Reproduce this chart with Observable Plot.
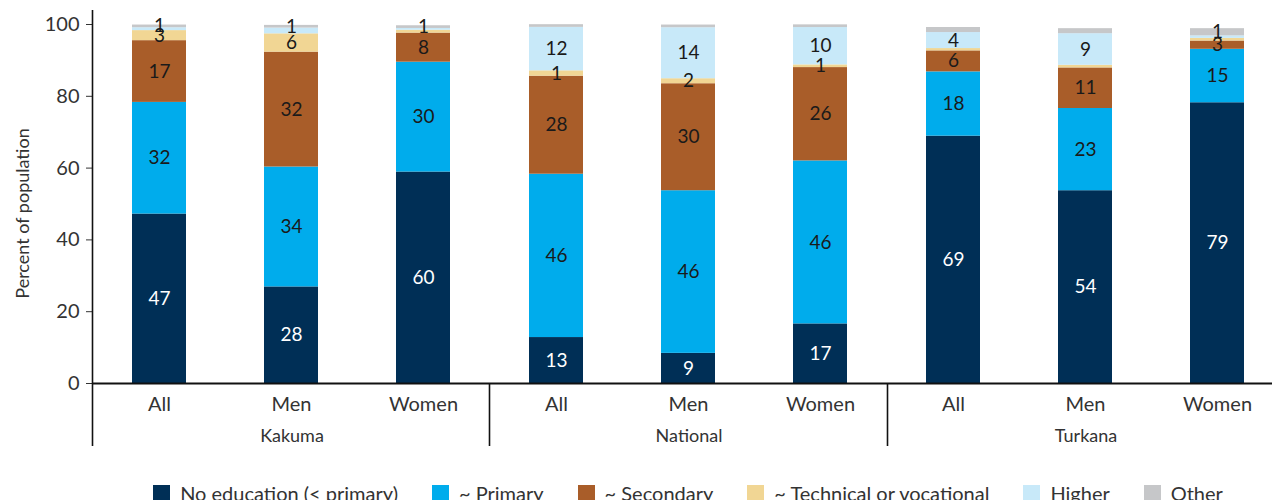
<!DOCTYPE html>
<html><head><meta charset="utf-8">
<script src="https://cdn.jsdelivr.net/npm/d3@7"></script>
<script src="https://cdn.jsdelivr.net/npm/@observablehq/plot@0.6"></script>
<style>
html,body{margin:0;padding:0;background:#fff;overflow:hidden;width:1272px;height:500px;}
#chart{width:1284px;}
.legend{display:flex;justify-content:center;gap:0 34px;padding-left:92px;box-sizing:border-box;width:1284px;margin-top:21px;font-family:Lato,sans-serif;font-size:20px;color:#333;}
.legend .item{display:flex;align-items:center;white-space:nowrap;}
.legend .sw{width:17px;height:17px;margin-right:10px;}
</style></head><body>
<div id="chart"></div>
<div class="legend" id="legend"></div>
<script>
const groups = ["Kakuma", "National", "Turkana"];
const subgroups = ["All", "Men", "Women"];
const series = ["No education (< primary)", "~ Primary", "~ Secondary", "~ Technical or vocational", "Higher", "Other"];
const colors = ["#002F56", "#00ACEC", "#A95D29", "#F1D694", "#C8E9F9", "#C6C7C9"];
const yTicks = [0, 20, 40, 60, 80, 100];
const yTitle = "Percent of population";

// bar order: Kakuma All/Men/Women, National All/Men/Women, Turkana All/Men/Women
const noEducation = [47.2, 26.9, 58.9, 12.8, 8.4, 16.6, 68.9, 53.7, 78.2];
const primary     = [31.1, 33.4, 30.6, 45.5, 45.3, 45.4, 17.9, 22.9, 14.9];
const secondary   = [17.2, 32.0, 8.1, 27.3, 29.8, 26.0, 5.85, 11.3, 2.3];
const technical   = [2.8, 5.1, 0.8, 1.5, 1.4, 0.75, 0.65, 0.74, 0.74];
const higher      = [0.8, 1.6, 0.5, 12.1, 14.2, 10.4, 4.46, 8.8, 0.7];
const other       = [0.75, 0.75, 0.75, 0.75, 0.75, 0.75, 1.4, 1.4, 2.0];

const noEducationLabels = ["47", "28", "60", "13", "9", "17", "69", "54", "79"];
const primaryLabels     = ["32", "34", "30", "46", "46", "46", "18", "23", "15"];
const secondaryLabels   = ["17", "32", "8", "28", "30", "26", "6", "11", "3"];
const technicalLabels   = ["3", "6", null, "1", "2", "1", null, null, null];
const higherLabels      = [null, null, null, "12", "14", "10", "4", "9", null];
const otherLabels       = ["1", "1", "1", null, null, null, null, null, "1"];

const valueSeries = [noEducation, primary, secondary, technical, higher, other];
const labelSeries = [noEducationLabels, primaryLabels, secondaryLabels, technicalLabels, higherLabels, otherLabels];
const bars = groups.flatMap(g => subgroups.map(s => ({group: g, sub: s})));
const data = [];
series.forEach((name, i) => bars.forEach((b, j) => data.push({
  group: b.group, sub: b.sub, series: name, value: valueSeries[i][j], label: labelSeries[i][j]
})));

const stackOpts = {fx: "group", x: "sub", y: "value", z: "series"};
const svg = Plot.plot({
  width: 1284, height: 460,
  marginLeft: 92, marginRight: 0, marginTop: 24, marginBottom: 77,
  style: {fontFamily: "Lato, sans-serif", fontSize: "20px", color: "#333", background: "white", overflow: "visible"},
  fx: {domain: groups, padding: 0, axis: null, label: null},
  x: {domain: subgroups, paddingInner: 0.59, paddingOuter: 0.295, tickSize: 0, tickPadding: 13, label: null},
  y: {domain: [0, 100], ticks: yTicks, tickSize: 7, tickPadding: 7, label: null},
  color: {domain: series, range: colors},
  marks: [
    Plot.barY(data, {...stackOpts, fill: "series"}),
    Plot.text(data, Plot.filter(d => d.label != null && d.series === series[0],
      Plot.stackY({...stackOpts, text: "label", fill: "white", fontSize: 19}))),
    Plot.text(data, Plot.filter(d => d.label != null && d.series !== series[0],
      Plot.stackY({...stackOpts, text: "label", fill: "#1a1a1a", fontSize: 19}))),
    Plot.ruleY([0], {stroke: "#111", strokeWidth: 2}),
    Plot.text(groups, {fx: d => d, text: d => d, frameAnchor: "bottom", dy: 58, fontSize: 18, fill: "#333"})
  ]
});
document.getElementById("chart").appendChild(svg);

// axis/separator lines and y title from library scales
const fxS = svg.scale("fx");
const yS = svg.scale("y");
const yScale = d3.scaleLinear(yS.domain, yS.range);
const fxScale = d3.scaleBand(fxS.domain, fxS.range).padding(0);
const y0 = yScale(0);
const sel = d3.select(svg);
sel.append("g")
  .selectAll("line").data(groups).join("line")
  .attr("x1", g => Math.round(fxScale(g)) + 0.5)
  .attr("x2", g => Math.round(fxScale(g)) + 0.5)
  .attr("y1", (g, i) => i === 0 ? yScale(100) - 14 : y0)
  .attr("y2", y0 + 63)
  .attr("stroke", "#111").attr("stroke-width", 1.6);
const yMid = (yScale(0) + yScale(100)) / 2 + 10;
sel.append("text")
  .attr("transform", `translate(${fxScale(groups[0]) - 70},${yMid}) rotate(-90)`)
  .attr("text-anchor", "middle")
  .attr("dominant-baseline", "central")
  .attr("fill", "#333")
  .style("font-size", "18px")
  .text(yTitle);

// legend
const legend = d3.select("#legend");
series.forEach((s, i) => {
  const it = legend.append("div").attr("class", "item");
  it.append("div").attr("class", "sw").style("background", colors[i]);
  it.append("span").text(s);
});
</script>
</body></html>
